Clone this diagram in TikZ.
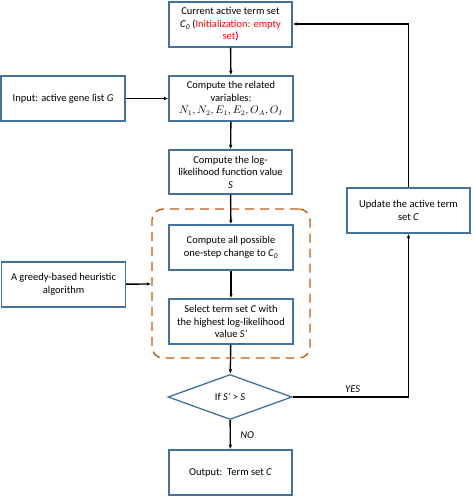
\documentclass[tikz,border=0pt]{standalone}
\usepackage{fontspec}
\setmainfont{Carlito}
\usetikzlibrary{shapes.geometric,arrows.meta}
\definecolor{boxblue}{HTML}{41719C}
\definecolor{dashorange}{HTML}{C55A11}
\begin{document}
\begin{tikzpicture}[x=1pt,y=-1pt,
  every node/.style={font=\fontsize{10.5}{12.6}\selectfont},
  box/.style={draw=boxblue,line width=1.3pt,fill=white,minimum width=123pt,minimum height=45pt,inner sep=0pt,align=center},
  dec/.style={draw=boxblue,line width=1.3pt,fill=white,shape=diamond,minimum width=124pt,minimum height=45pt,inner sep=0pt,align=center},
  grp/.style={draw=dashorange,line width=1.4pt,dash pattern=on 9pt off 6pt,rounded corners=11pt,minimum width=158pt,minimum height=149pt,inner sep=0pt},
  conn/.style={line width=1.4pt,-{Latex[length=4.5pt,width=3.5pt]}},
  lbl/.style={font=\fontsize{10.5}{12.6}\selectfont\itshape}]
\useasboundingbox (0,0) rectangle (472,497);
\node[grp] (group) at (231,283.5) {};
\node[box] (cur) at (230.5,24.5) {Current active term set\\\textit{C}\textsubscript{\textit{0}} (\textcolor{red}{Initialization: empty}\\\textcolor{red}{set})};
\node[box,minimum width=124pt] (rel) at (231,98.5) {Compute the related\\variables:\\$N_1, N_2, E_1, E_2, O_A, O_I$};
\node[box,minimum width=124pt] (inp) at (63,98.5) {Input: active gene list \textit{G}};
\node[box,minimum height=44pt] (loglik) at (230.5,172) {Compute the log-\\likelihood function value\\\textit{S}};
\node[box,minimum width=124pt] (chg) at (231,247.5) {Compute all possible\\one-step change to \textit{C}\textsubscript{\textit{0}}};
\node[box,minimum width=124pt] (sel) at (231,321.5) {Select term set \textit{C} with\\the highest log-likelihood\\value \textit{S’}};
\node[box,minimum width=124pt] (greedy) at (63.5,284.5) {A greedy-based heuristic\\algorithm};
\node[dec] (if) at (230,397) {If \textit{S’} > \textit{S}};
\node[box] (out) at (230.5,472.5) {Output:\ \ Term set \textit{C}};
\node[box] (upd) at (408.5,210.5) {Update the active term\\set \textit{C}};
\coordinate (c1) at (408.5,397);
\coordinate (c2) at (408.5,24);
\draw[conn] (cur) -- (rel);
\draw[conn] (inp) -- (rel);
\draw[conn] (rel) -- (loglik);
\draw[conn] (loglik) -- (chg);
\draw[conn] (chg) -- (sel);
\draw[conn] (greedy) -- (group);
\draw[conn] (sel) -- (if);
\draw[conn] (if) -- node[lbl,right,xshift=6pt] {NO} (out);
\draw[conn] (if.east) -- node[lbl,above,pos=0.5,xshift=2pt] {YES} (c1) -- (upd);
\draw[conn] (upd) -- (c2) -- (cur.east |- c2);
\end{tikzpicture}
\end{document}
